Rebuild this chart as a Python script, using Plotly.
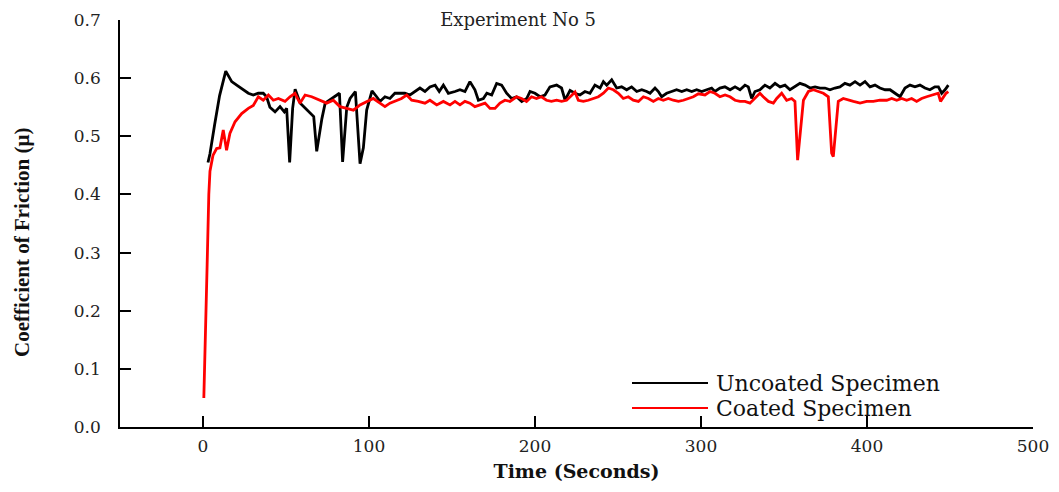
import plotly.graph_objects as go

# ---- data ----
uncoated_t = [3, 4.2, 7, 10, 13.7, 17.3, 20.3, 24.3, 27.3, 30.3, 33.3, 36.3, 38.3, 40.3, 43.4, 46.4, 49, 50.4,
              52.2, 54, 55.5, 58.6, 62.7, 66.7, 68.5, 71.6, 73.6, 76.5, 79.5, 82.2, 84.1, 86.6, 88.6, 91.8, 94.6,
              96.6, 98.6, 101.8, 104.6, 106.6, 109.6, 112.6, 115.6, 118.6, 121.6, 124.7, 127.7, 130.7, 133.7,
              136.7, 139.8, 142.3, 144.8, 147.8, 151.8, 154.8, 157.8, 160.8, 163.8, 165.9, 168.9, 171, 173.9,
              176.9, 179.9, 182.9, 185.9, 188.9, 192, 195, 197, 200, 203, 206, 209, 213, 216, 218.1, 221.1,
              224.1, 227.1, 230.1, 233.1, 236.1, 239.2, 241.2, 243.2, 246.2, 249.2, 252.2, 255.2, 258.2, 261.3,
              264.3, 267.3, 269.3, 272.3, 274.3, 276.3, 279.3, 282.3, 285.3, 288.4, 291.4, 294.4, 297.4, 300.4,
              303.4, 306.4, 308.4, 311.4, 314.4, 317.5, 320.5, 323.5, 326.5, 328.5, 330.5, 332.5, 335.5, 338.5,
              341.5, 344.6, 347.6, 350.6, 353.6, 356.6, 359.6, 362.7, 365.7, 368.7, 371.7, 374.7, 377.7, 380.7,
              383.7, 386.7, 389.7, 392.8, 395.8, 398.8, 401.8, 404.8, 407.8, 410.9, 413.9, 416.9, 419.9, 422.9,
              425.9, 428.9, 431.9, 434.9, 437.9, 440.9, 443, 445, 447, 449]
uncoated_mu = [0.455, 0.47, 0.52, 0.57, 0.612, 0.594, 0.588, 0.580, 0.574, 0.571, 0.574, 0.574, 0.568, 0.550,
               0.542, 0.551, 0.542, 0.548, 0.455, 0.548, 0.581, 0.557, 0.545, 0.534, 0.474, 0.530, 0.557, 0.563,
               0.568, 0.574, 0.456, 0.550, 0.565, 0.577, 0.453, 0.48, 0.545, 0.578, 0.568, 0.560, 0.568, 0.565,
               0.574, 0.574, 0.574, 0.571, 0.577, 0.583, 0.577, 0.585, 0.588, 0.577, 0.588, 0.574, 0.577, 0.580,
               0.577, 0.594, 0.580, 0.562, 0.565, 0.574, 0.571, 0.591, 0.588, 0.574, 0.565, 0.568, 0.560, 0.565,
               0.577, 0.574, 0.568, 0.571, 0.585, 0.588, 0.583, 0.562, 0.579, 0.574, 0.571, 0.577, 0.574, 0.588,
               0.583, 0.594, 0.588, 0.597, 0.583, 0.585, 0.580, 0.585, 0.577, 0.580, 0.577, 0.574, 0.583, 0.577,
               0.568, 0.574, 0.577, 0.580, 0.577, 0.580, 0.577, 0.580, 0.577, 0.580, 0.583, 0.577, 0.583, 0.585,
               0.580, 0.585, 0.580, 0.588, 0.585, 0.565, 0.577, 0.580, 0.588, 0.583, 0.591, 0.585, 0.588, 0.580,
               0.585, 0.591, 0.588, 0.583, 0.585, 0.583, 0.583, 0.580, 0.583, 0.585, 0.591, 0.588, 0.594, 0.588,
               0.594, 0.585, 0.588, 0.583, 0.580, 0.580, 0.574, 0.568, 0.583, 0.588, 0.585, 0.588, 0.583, 0.580,
               0.585, 0.585, 0.574, 0.580, 0.588]

coated_t = [0.5, 1.5, 2.5, 3.5, 4.2, 6, 8.2, 10.2, 12.2, 14.2, 16.2, 19.3, 23.3, 27.3, 30.3, 33.3, 36.3, 39.4,
            42.4, 45.4, 49.4, 52.4, 55.4, 58.4, 61.5, 65.5, 70.5, 74.5, 78.5, 82.5, 86.5, 90.6, 94.6, 98.6, 102.6,
            106.6, 109.6, 112.6, 115.6, 119.6, 122.7, 125.7, 129.7, 133.7, 136.7, 140.8, 144.8, 148.8, 151.8,
            154.8, 157.8, 160.8, 163.8, 166.9, 169.9, 172.9, 175.9, 178.9, 181.9, 184.9, 188.9, 191.9, 194.9,
            197.9, 200.9, 203.9, 206.9, 209.9, 213, 216, 219, 222, 224.1, 226.1, 229.1, 232.1, 235.1, 238.2,
            241.2, 244.2, 247.2, 250.2, 253.2, 256.2, 259.2, 262.3, 265.3, 268.3, 271.3, 274.3, 277.3, 280.3,
            283.3, 286.4, 289.4, 292.4, 295.4, 298.4, 302.4, 305.4, 308.4, 311.4, 314.5, 317.5, 320.5, 323.5,
            326.5, 329.5, 332.5, 335.5, 337.5, 340.6, 343.6, 345.6, 348.6, 351.6, 354.6, 356.6, 358.2, 360.2,
            361.7, 364.7, 367.7, 370.7, 373.7, 376.7, 378.7, 379.7, 381.3, 382.7, 385.7, 388.8, 391.8, 395.8,
            399.8, 403.8, 407.8, 411.9, 414.9, 417.9, 420.9, 423.9, 426.9, 429.9, 432.9, 435.9, 439.9, 442.9,
            444.3, 445.9, 447.6, 449]
coated_mu = [0.05, 0.15, 0.28, 0.40, 0.44, 0.467, 0.479, 0.48, 0.511, 0.476, 0.505, 0.525, 0.539, 0.548, 0.553,
             0.568, 0.562, 0.571, 0.562, 0.565, 0.560, 0.568, 0.574, 0.557, 0.571, 0.568, 0.562, 0.557, 0.562,
             0.551, 0.548, 0.545, 0.554, 0.560, 0.565, 0.557, 0.551, 0.557, 0.560, 0.565, 0.571, 0.562, 0.560,
             0.557, 0.562, 0.554, 0.560, 0.554, 0.560, 0.554, 0.560, 0.557, 0.551, 0.554, 0.557, 0.548, 0.548,
             0.557, 0.562, 0.560, 0.568, 0.565, 0.560, 0.568, 0.565, 0.568, 0.562, 0.560, 0.562, 0.560, 0.562,
             0.570, 0.576, 0.562, 0.560, 0.562, 0.565, 0.568, 0.574, 0.583, 0.580, 0.574, 0.565, 0.568, 0.562,
             0.560, 0.568, 0.565, 0.560, 0.565, 0.562, 0.565, 0.562, 0.560, 0.562, 0.565, 0.568, 0.573, 0.571,
             0.577, 0.574, 0.568, 0.571, 0.568, 0.562, 0.560, 0.560, 0.557, 0.565, 0.574, 0.568, 0.560, 0.557,
             0.565, 0.574, 0.562, 0.565, 0.560, 0.459, 0.517, 0.562, 0.577, 0.580, 0.577, 0.574, 0.568, 0.471,
             0.465, 0.517, 0.560, 0.565, 0.562, 0.560, 0.557, 0.560, 0.560, 0.562, 0.562, 0.565, 0.562, 0.565,
             0.562, 0.565, 0.560, 0.565, 0.568, 0.571, 0.574, 0.560, 0.568, 0.574, 0.577]

series_names = ["Uncoated Specimen", "Coated Specimen"]
series_colors = ["#000000", "#ff0000"]
x_ticks = [0, 100, 200, 300, 400, 500]
y_ticks = [0.0, 0.1, 0.2, 0.3, 0.4, 0.5, 0.6, 0.7]

SERIF = "DejaVu Serif"

fig = go.Figure()
fig.add_trace(go.Scatter(x=uncoated_t, y=uncoated_mu, mode="lines", name=series_names[0],
                         showlegend=False, line=dict(color=series_colors[0], width=2.8)))
fig.add_trace(go.Scatter(x=coated_t, y=coated_mu, mode="lines", name=series_names[1],
                         showlegend=False, line=dict(color=series_colors[1], width=2.8)))

# ---- legend drawn as line samples + labels (long sample lines as in the reference) ----
PLOT_L, PLOT_R, PLOT_T, PLOT_B = 120, 1033, 20, 427
def px_x(p):
    return (p - PLOT_L) / (PLOT_R - PLOT_L)
def px_y(p):
    return (PLOT_B - p) / (PLOT_B - PLOT_T)

legend_rows_px = [383, 408]
for name, color, row in zip(series_names, series_colors, legend_rows_px):
    fig.add_shape(type="line", xref="paper", yref="paper",
                  x0=px_x(632), x1=px_x(708), y0=px_y(row), y1=px_y(row),
                  line=dict(color=color, width=2.2))
    fig.add_annotation(text=name, xref="paper", yref="paper", x=px_x(714), y=px_y(row),
                       xanchor="left", yanchor="middle", showarrow=False,
                       font=dict(family=SERIF, size=22, color="#111111"))

# y-axis title as an annotation so it can sit where the reference puts it
fig.add_annotation(text="<b>Coefficient of Friction (μ)</b>", xref="paper", yref="paper",
                   x=px_x(22), y=px_y(243), xanchor="center", yanchor="middle",
                   textangle=-90, showarrow=False,
                   font=dict(family="Liberation Serif", size=21, color="#111111"))

fig.update_layout(
    width=1059, height=492,
    margin=dict(l=PLOT_L, r=1059 - PLOT_R, t=PLOT_T, b=492 - PLOT_B, autoexpand=False),
    paper_bgcolor="white", plot_bgcolor="white",
    showlegend=False,
    title=dict(text="Experiment No 5", x=0.436, xref="paper", xanchor="center",
               y=1 - 20 / 492, yref="container", yanchor="middle",
               font=dict(family=SERIF, size=18, color="#222222")),
)

fig.update_xaxes(
    range=[-50, 500], tickvals=x_ticks, ticktext=[str(v) for v in x_ticks],
    showgrid=False, zeroline=False, automargin=False,
    showline=True, linecolor="black", linewidth=1.5,
    ticks="inside", ticklen=11, tickwidth=1.5, tickcolor="black",
    ticklabelstandoff=3,
    tickfont=dict(family=SERIF, size=17, color="#222222"),
    title=dict(text="<b>Time (Seconds)</b>", standoff=10,
               font=dict(family=SERIF, size=19, color="#111111")),
)
fig.update_yaxes(
    range=[0, 0.7], tickvals=y_ticks, ticktext=[f"{v:.1f}" for v in y_ticks],
    showgrid=False, zeroline=False, automargin=False,
    showline=True, linecolor="black", linewidth=1.5,
    ticks="inside", ticklen=11, tickwidth=1.5, tickcolor="black",
    ticklabelstandoff=14,
    tickfont=dict(family=SERIF, size=17, color="#222222"),
)

fig.write_html("out.html")
